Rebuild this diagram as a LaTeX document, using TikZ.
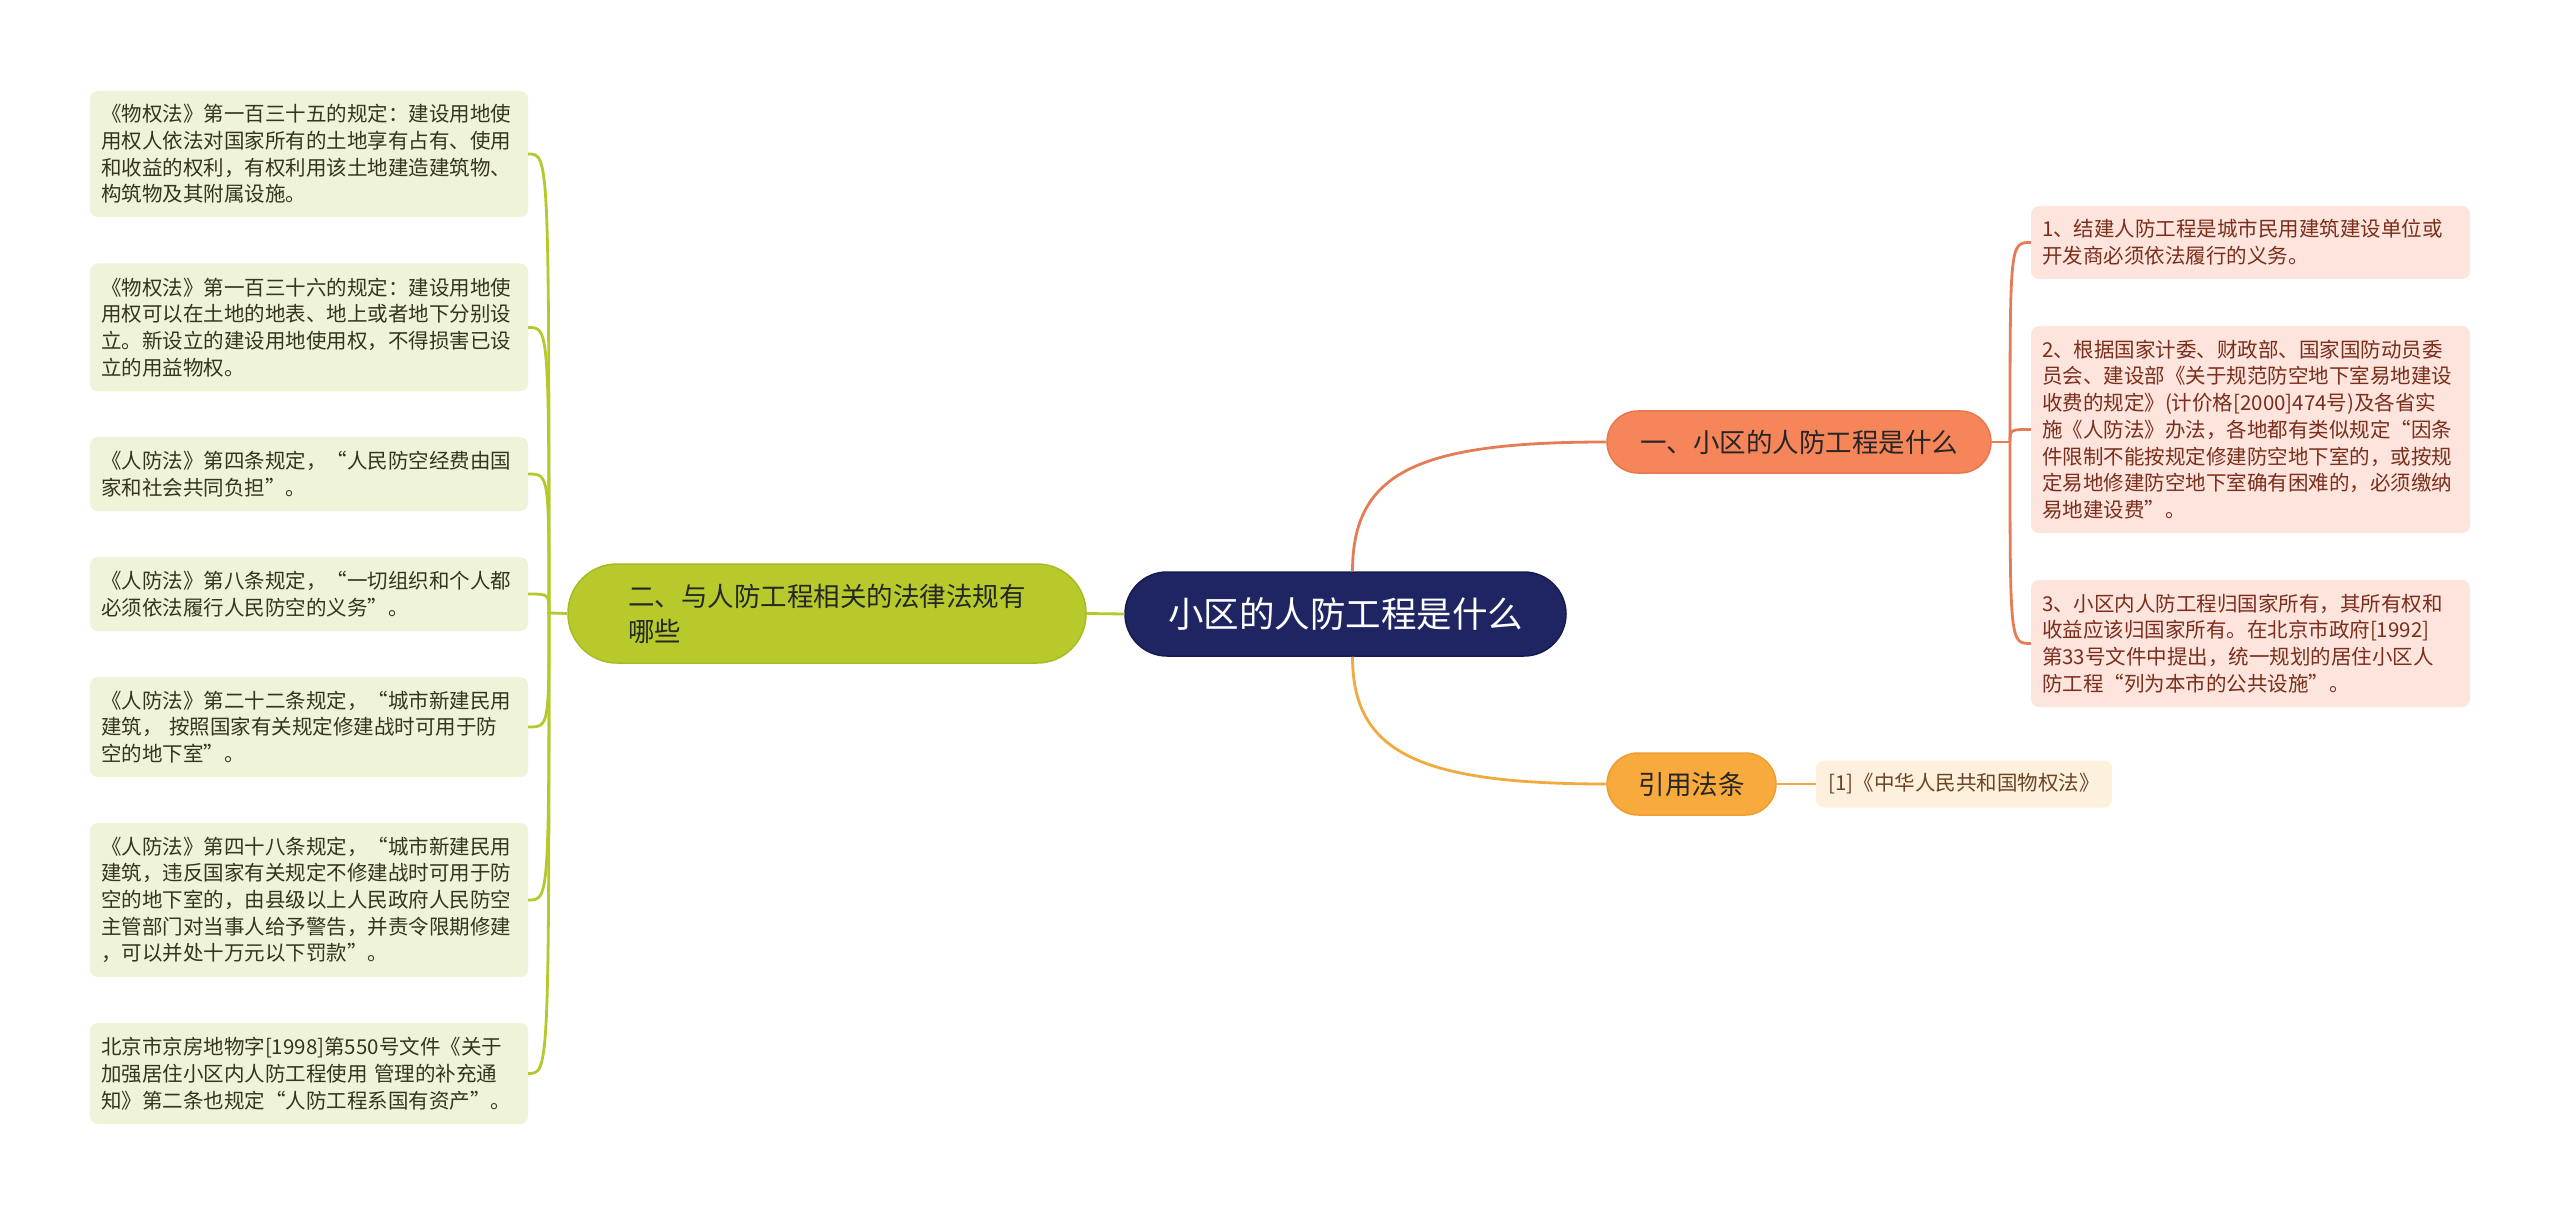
\documentclass[tikz,border=0pt]{standalone}
\usepackage{fontspec}
\setmainfont{Noto Sans CJK SC}
\newfontfamily\fwfont[CharacterWidth=Full]{Noto Sans CJK SC}
\newcommand\myLQ{{\fwfont “}}
\newcommand\myRQ{{\fwfont ”}}
\definecolor{ctrfill}{HTML}{1F2563}
\definecolor{ctrdraw}{HTML}{161B4F}
\definecolor{grnfill}{HTML}{B8CA2B}
\definecolor{grndraw}{HTML}{A8BA22}
\definecolor{orgfill}{HTML}{F6855A}
\definecolor{orgdraw}{HTML}{E8774E}
\definecolor{yelfill}{HTML}{F9AA3C}
\definecolor{yeldraw}{HTML}{EE9E30}
\definecolor{lleaf}{HTML}{EFF4D8}
\definecolor{ltext}{HTML}{35351F}
\definecolor{rleaf}{HTML}{FDE4DC}
\definecolor{rtext}{HTML}{7B2E1C}
\definecolor{citefill}{HTML}{FDF0DC}
\definecolor{citetext}{HTML}{6B4423}
\definecolor{gline}{HTML}{B5C92D}
\definecolor{oline}{HTML}{E47D55}
\definecolor{yline}{HTML}{F2AA3E}
\begin{document}
\begin{tikzpicture}[x=1pt,y=-1pt,
  lbox/.style={fill=lleaf, rounded corners=8pt, text=ltext,
    font=\fontsize{20.5}{26.7}\selectfont, align=left,
    text width=416pt, inner xsep=11pt, inner ysep=0pt, minimum width=438pt},
  rbox/.style={fill=rleaf, rounded corners=8pt, text=rtext,
    font=\fontsize{20.5}{26.7}\selectfont, align=left,
    text width=417pt, inner xsep=11pt, inner ysep=0pt, minimum width=439pt},
  citebox/.style={fill=citefill, rounded corners=8pt, text=citetext,
    font=\fontsize{20.5}{26.7}\selectfont, inner sep=0pt,
    minimum width=296pt, minimum height=47pt},
  ctrnode/.style={fill=ctrfill, draw=ctrdraw, line width=1.5pt, text=white,
    font=\fontsize{35.5}{42}\selectfont, rounded corners=42pt, inner sep=0pt,
    minimum width=441pt, minimum height=84pt},
  secnode/.style={line width=1.5pt, text=ltext, inner sep=0pt,
    font=\fontsize{26.5}{35}\selectfont},
  gconn/.style={draw=gline, line width=2.8pt},
  oconn/.style={draw=oline, line width=2.8pt},
  yconn/.style={draw=yline, line width=2.8pt}
]
\useasboundingbox (0,0) rectangle (2560,1214);
\fill[white] (0,0) rectangle (2560,1214);

% central node
\node[ctrnode] (ctr) at (1345.5,614) {小区的人防工程是什么};

% second level
\node[secnode, fill=grnfill, draw=grndraw, rounded corners=49pt,
  minimum width=518pt, minimum height=99pt, align=left, text=black!85]
  (grn) at (827,613.5) {二、与人防工程相关的法律法规有\\哪些};
\node[secnode, fill=orgfill, draw=orgdraw, rounded corners=31pt,
  minimum width=384pt, minimum height=62pt, text=black!85]
  (org) at (1799,442) {一、小区的人防工程是什么};
\node[secnode, fill=yelfill, draw=yeldraw, rounded corners=31pt,
  minimum width=169pt, minimum height=62pt, text=black!85]
  (yel) at (1691.5,784) {引用法条};

% citation
\node[citebox] (cite) at (1964,784) {{[1]}《中华人民共和国物权法》};

% left leaves
\node[lbox, minimum height=126pt] (L1) at (309,154) {《物权法》第一百三十五的规定：建设用地使\\用权人依法对国家所有的土地享有占有、使用\\和收益的权利，有权利用该土地建造建筑物、\\构筑物及其附属设施。};
\node[lbox, minimum height=128pt] (L2) at (309,327.5) {《物权法》第一百三十六的规定：建设用地使\\用权可以在土地的地表、地上或者地下分别设\\立。新设立的建设用地使用权，不得损害已设\\立的用益物权。};
\node[lbox, minimum height=74pt] (L3) at (309,474) {《人防法》第四条规定，\myLQ 人民防空经费由国\\家和社会共同负担\myRQ 。};
\node[lbox, minimum height=74pt] (L4) at (309,594) {《人防法》第八条规定，\myLQ 一切组织和个人都\\必须依法履行人民防空的义务\myRQ 。};
\node[lbox, minimum height=100pt] (L5) at (309,727) {《人防法》第二十二条规定，\myLQ 城市新建民用\\建筑， 按照国家有关规定修建战时可用于防\\空的地下室\myRQ 。};
\node[lbox, minimum height=154pt] (L6) at (309,900) {《人防法》第四十八条规定，\myLQ 城市新建民用\\建筑，违反国家有关规定不修建战时可用于防\\空的地下室的，由县级以上人民政府人民防空\\主管部门对当事人给予警告，并责令限期修建\\，可以并处十万元以下罚款\myRQ 。};
\node[lbox, minimum height=101pt] (L7) at (309,1073.5) {北京市京房地物字[1998]第550号文件《关于\\加强居住小区内人防工程使用 管理的补充通\\知》第二条也规定\myLQ 人防工程系国有资产\myRQ 。};

% right leaves
\node[rbox, minimum height=73pt] (R1) at (2250.5,242.5) {1、结建人防工程是城市民用建筑建设单位或\\开发商必须依法履行的义务。};
\node[rbox, minimum height=207pt] (R2) at (2250.5,429.5) {2、根据国家计委、财政部、国家国防动员委\\员会、建设部《关于规范防空地下室易地建设\\收费的规定》(计价格[2000]474号)及各省实\\施《人防法》办法，各地都有类似规定\myLQ 因条\\件限制不能按规定修建防空地下室的，或按规\\定易地修建防空地下室确有困难的，必须缴纳\\易地建设费\myRQ 。};
\node[rbox, minimum height=127pt] (R3) at (2250.5,643.5) {3、小区内人防工程归国家所有，其所有权和\\收益应该归国家所有。在北京市政府[1992]\\第33号文件中提出，统一规划的居住小区人\\防工程\myLQ 列为本市的公共设施\myRQ 。};

% branch points
\coordinate (gbr) at (549,613);
\coordinate (obr) at (2010,442);

% connectors
\draw[gconn] (ctr.west) -- (grn.east);
\draw[oconn] ([xshift=7pt]ctr.north) .. controls +(0,-100) and +(-187,0) .. (org.west);
\draw[yconn] ([xshift=7pt]ctr.south) .. controls +(0,96) and +(-187,0) .. (yel.west);
\draw[yconn] (yel.east) -- (cite.west);
\draw[gconn] (grn.west) -- (gbr);
\foreach \n in {L1,L2,L3,L4,L5,L6,L7}
  \draw[gconn] (gbr) .. controls (gbr |- \n.east) .. (\n.east);
\draw[oconn] (org.east) -- (obr);
\foreach \n in {R1,R2,R3}
  \draw[oconn] (obr) .. controls (obr |- \n.west) .. (\n.west);
\end{tikzpicture}
\end{document}
